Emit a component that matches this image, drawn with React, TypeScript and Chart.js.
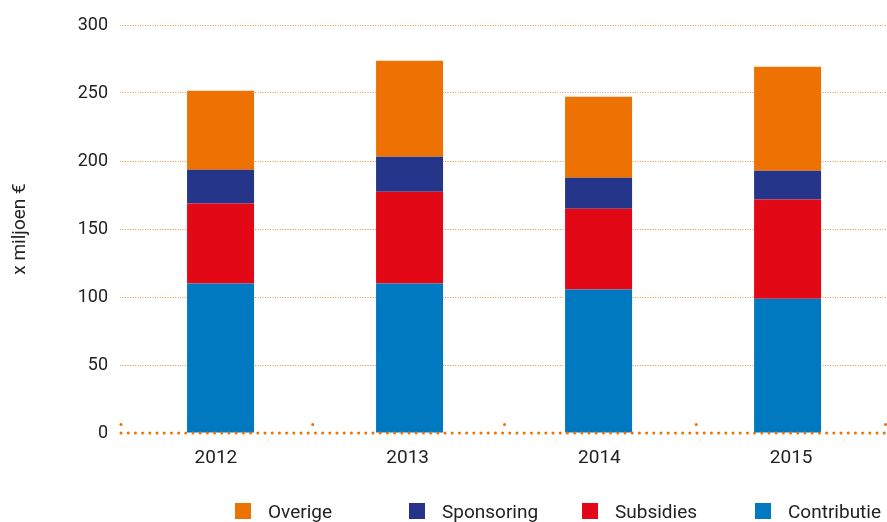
import React, { useEffect, useRef } from "react";
import { Chart, registerables } from "chart.js";

Chart.register(...registerables);

// ---- data ----
const years = ["2012", "2013", "2014", "2015"];
const contributie = [110, 110, 105.6, 98.8];
const subsidies = [58.8, 67.4, 59.3, 72.8];
const sponsoring = [24.8, 25.8, 22.8, 21.3];
const overige = [58.1, 70.6, 59.6, 76.4];
const yMin = 0;
const yMax = 300;
const yStep = 50;
const yTitle = "x miljoen €";
const legendLabels = ["Overige", "Sponsoring", "Subsidies", "Contributie"];
// bar placement axis (years as numbers), slightly tighter than the label grid
const barAxisMin = 2011.468;
const barAxisMax = 2015.526;

// ---- styles ----
const ORANGE = "#EE7203";
const NAVY = "#24358A";
const RED = "#E20816";
const BLUE = "#0079C1";
const TEXT = "#222222";
const FONT = "Roboto";
const legendColors = [ORANGE, NAVY, RED, BLUE];
const legendLeft = [235, 409, 582, 755];

const baselinePlugin = {
  id: "baseline",
  afterDatasetsDraw(chart: any) {
    const { ctx, chartArea, scales } = chart;
    const y0 = scales.y.getPixelForValue(0);
    ctx.save();
    ctx.strokeStyle = ORANGE;
    ctx.fillStyle = ORANGE;
    ctx.lineWidth = 3;
    ctx.lineCap = "round";
    ctx.setLineDash([0, 7.2]);
    ctx.beginPath();
    ctx.moveTo(chartArea.left + 1, y0);
    ctx.lineTo(chartArea.right, y0);
    ctx.stroke();
    ctx.setLineDash([]);
    const n = chart.data.labels.length;
    const w = (chartArea.right - chartArea.left) / n;
    for (let i = 0; i <= n; i++) {
      const x = Math.min(chartArea.left + 1 + i * w, chartArea.right - 1.5);
      ctx.beginPath();
      ctx.arc(x, y0 - 8.5, 1.5, 0, Math.PI * 2);
      ctx.fill();
    }
    ctx.restore();
  },
};

function StackedChart() {
  const ref = useRef<HTMLCanvasElement | null>(null);

  useEffect(() => {
    if (!ref.current) return;
    const chart = new Chart(ref.current, {
      type: "bar",
      data: {
        labels: years,
        datasets: [
          { label: "Contributie", data: contributie, backgroundColor: BLUE, xAxisID: "xb" },
          { label: "Subsidies", data: subsidies, backgroundColor: RED, xAxisID: "xb" },
          { label: "Sponsoring", data: sponsoring, backgroundColor: NAVY, xAxisID: "xb" },
          { label: "Overige", data: overige, backgroundColor: ORANGE, xAxisID: "xb" },
        ],
      },
      options: {
        animation: false,
        responsive: true,
        maintainAspectRatio: false,
        datasets: { bar: { barPercentage: 0.3545, categoryPercentage: 1, borderWidth: 0 } },
        layout: { padding: { top: 25, bottom: 39, left: 0, right: 0 } },
        plugins: { legend: { display: false }, tooltip: { enabled: false } },
        scales: {
          x: {
            type: "category",
            grid: { display: false, drawTicks: false },
            border: { display: false },
            ticks: { color: TEXT, font: { family: FONT, size: 19 }, padding: 14 },
            afterFit: (s: any) => {
              s.height = 50;
            },
          },
          xb: {
            type: "linear",
            position: "bottom",
            display: false,
            offset: false,
            stacked: true,
            min: barAxisMin,
            max: barAxisMax,
            afterBuildTicks: (s: any) => {
              s.ticks = years.map((y) => ({ value: Number(y) }));
            },
          },
          y: {
            stacked: true,
            min: yMin,
            max: yMax,
            ticks: {
              stepSize: yStep,
              color: TEXT,
              font: { family: FONT, size: 18 },
              padding: 12,
            },
            grid: {
              drawTicks: false,
              lineWidth: 1,
              color: (c: any) => (c.tick && c.tick.value === 0 ? "rgba(0,0,0,0)" : "rgba(238,114,3,0.75)"),
            },
            border: { display: false, dash: [1, 1.5] },
            title: {
              display: true,
              text: yTitle,
              color: TEXT,
              font: { family: FONT, size: 19 },
              padding: { top: 9, bottom: 0 },
            },
            afterFit: (s: any) => {
              s.width = 120;
            },
          },
        },
      },
      plugins: [baselinePlugin],
    });
    return () => chart.destroy();
  }, []);

  return <canvas ref={ref} />;
}

export default function App() {
  return (
    <div
      style={{
        position: "absolute",
        left: 0,
        top: 0,
        width: 887,
        height: 522,
        background: "#ffffff",
        overflow: "hidden",
      }}
    >
      <div style={{ position: "absolute", left: 0, top: 0, width: 887, height: 522 }}>
        <StackedChart />
      </div>
      {legendLabels.map((lab, i) => (
        <div
          key={lab}
          style={{ position: "absolute", left: legendLeft[i], top: 503, height: 16, width: 170 }}
        >
          <div
            style={{
              position: "absolute",
              left: 0,
              top: 0,
              width: 16,
              height: 16,
              background: legendColors[i],
            }}
          />
          <span
            style={{
              position: "absolute",
              left: 33,
              top: 1,
              fontFamily: FONT,
              fontSize: 19,
              lineHeight: "16px",
              color: TEXT,
              whiteSpace: "nowrap",
            }}
          >
            {lab}
          </span>
        </div>
      ))}
    </div>
  );
}
